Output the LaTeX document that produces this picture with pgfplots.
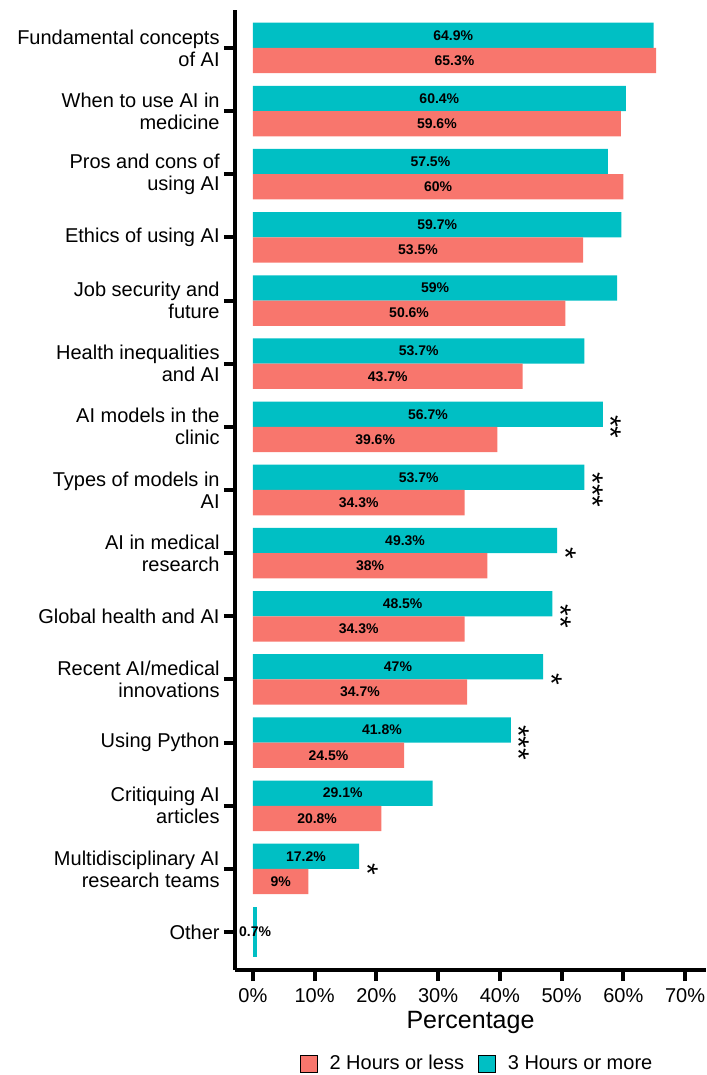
\documentclass[border=0pt]{standalone}
\usepackage{pgfplots}
\pgfplotsset{compat=1.18}
\usepackage{pgfplotstable}
\usepackage{fontspec}
\setmainfont{Liberation Sans}
\definecolor{tealc}{HTML}{00BFC4}
\definecolor{redc}{HTML}{F8766D}

\pgfplotstableread{
y three two
14 64.9 65.3
13 60.4 59.6
12 57.5 60
11 59.7 53.5
10 59 50.6
9 53.7 43.7
8 56.7 39.6
7 53.7 34.3
6 49.3 38
5 48.5 34.3
4 47 34.7
3 41.8 24.5
2 29.1 20.8
1 17.2 9
}\data

\pgfplotstableread{
y x s
8 58.05 **
7 55.05 ***
6 50.65 *
5 49.85 **
4 48.35 *
3 43.15 ***
1 18.55 *
}\sig

\begin{document}
\begin{tikzpicture}
\useasboundingbox (-117.5pt,-52.5pt) rectangle (235.5pt,485pt);
\begin{axis}[
  at={(0,0)}, anchor=south west,
  scale only axis, width=235.5pt, height=480pt,
  xmin=-2.9, xmax=73.4, ymin=-0.6, ymax=14.6,
  axis x line=bottom, axis y line=left,
  axis line style={-, line width=2pt, black},
  tick align=outside,
  major tick length=5.5pt,
  tick style={line width=2pt, black},
  xtick={0,10,...,70},
  xticklabels={0\%,10\%,20\%,30\%,40\%,50\%,60\%,70\%},
  ytick={0,...,14},
  yticklabels={
    Other,
    {Multidisciplinary AI\\research teams},
    {Critiquing AI\\articles},
    Using Python,
    {Recent AI/medical\\innovations},
    Global health and AI,
    {AI in medical\\research},
    {Types of models in\\AI},
    {AI models in the\\clinic},
    {Health inequalities\\and AI},
    {Job security and\\future},
    Ethics of using AI,
    {Pros and cons of\\using AI},
    {When to use AI in\\medicine},
    {Fundamental concepts\\of AI}},
  yticklabel style={align=right, font=\fontsize{10}{11}\selectfont, inner sep=2pt},
  xticklabel style={font=\fontsize{10}{11}\selectfont},
  xlabel={Percentage},
  xlabel style={at={(axis description cs:0.5,-0.055)}, anchor=center, font=\fontsize{12.5}{13}\selectfont},
  legend style={at={(0.516,-0.098)}, anchor=center, draw=none, legend columns=2,
    font=\fontsize{10}{12}\selectfont,
    /tikz/every even column/.append style={column sep=5pt},
    /tikz/every odd column/.append style={column sep=4pt}},
  legend image code/.code={\fill[#1] (0pt,-4.25pt) rectangle (8.5pt,4.25pt);},
  clip=false,
]
\addplot[xbar, bar width=0.4, bar shift=0.2, fill=tealc, draw=none, forget plot] table[x=three, y=y]{\data};
\addplot[xbar, bar width=0.4, bar shift=-0.2, fill=redc, draw=none, forget plot] table[x=two, y=y]{\data};
\addplot[xbar, bar width=0.8, bar shift=0, fill=tealc, draw=none, forget plot] coordinates {(0.7,0)};

\addplot[draw=none, mark=none, forget plot, point meta=explicit symbolic,
  nodes near coords={\pgfplotspointmeta\%},
  nodes near coords style={font=\bfseries\fontsize{7}{8}\selectfont, anchor=center, text=black}]
  table[x expr=\thisrow{three}/2, y expr=\thisrow{y}+0.2, meta=three]{\data};
\addplot[draw=none, mark=none, forget plot, point meta=explicit symbolic,
  nodes near coords={\pgfplotspointmeta\%},
  nodes near coords style={font=\bfseries\fontsize{7}{8}\selectfont, anchor=center, text=black}]
  table[x expr=\thisrow{two}/2, y expr=\thisrow{y}-0.2, meta=two]{\data};
\addplot[draw=none, mark=none, forget plot, point meta=explicit symbolic,
  nodes near coords={\pgfplotspointmeta\%},
  nodes near coords style={font=\bfseries\fontsize{7}{8}\selectfont, anchor=center, text=black}]
  coordinates {(0.35,0) [0.7]};

\addplot[draw=none, mark=none, forget plot, point meta=explicit symbolic,
  nodes near coords={\pgfplotspointmeta},
  nodes near coords style={font=\fontsize{15}{15}\selectfont, rotate=-90, anchor=center, text=black}]
  table[x=x, y=y, meta=s]{\sig};

\addlegendimage{fill=redc}\addlegendentry{2 Hours or less}
\addlegendimage{fill=tealc}\addlegendentry{3 Hours or more}
\end{axis}
\end{tikzpicture}
\end{document}
